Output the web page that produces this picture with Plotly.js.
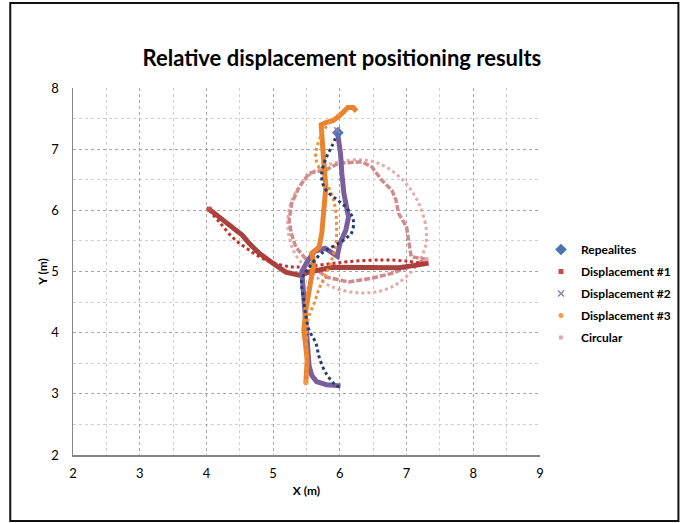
<!DOCTYPE html>
<html><head><meta charset="utf-8">
<script src="https://cdn.plot.ly/plotly-3.0.1.min.js"></script>
<style>html,body{margin:0;padding:0;background:#fff}#chart{width:688px;height:523px}</style>
</head><body><div id="chart"></div><script>
// Repealites (reference path, dotted)
const repealX = [5.97,5.88,5.78,5.73,5.74,5.80,5.95,6.09,6.20,6.18,6.10,5.98,5.73,5.54,5.43,5.46,5.49,5.54,5.64,5.69,5.79,5.94,6.01];
const repealY = [7.27,7.05,6.82,6.62,6.45,6.32,6.18,6.05,5.85,5.64,5.55,5.46,5.30,5.07,4.86,4.53,4.28,4.04,3.83,3.60,3.34,3.14,3.11];
// Displacement #1
const disp1MeasX = [4.04,4.12,4.19,4.30,4.39,4.54,4.64,4.79,4.99,5.19,5.39,5.54,5.88,6.39,6.88,7.13,7.33];
const disp1MeasY = [6.02,5.95,5.89,5.80,5.73,5.59,5.46,5.30,5.14,4.99,4.94,4.99,5.07,5.07,5.06,5.10,5.14];
const disp1RefX = [4.04,4.20,4.39,4.60,4.89,5.24,5.50,5.80,6.13,6.63,7.00,7.28];
const disp1RefY = [6.00,5.80,5.56,5.38,5.19,5.08,5.08,5.12,5.16,5.19,5.17,5.12];
// Displacement #2
const disp2X = [6.01,5.80,5.65,5.58,5.54,5.51,5.49,5.45,5.43,5.43,5.52,5.62,5.78,5.96,6.00,6.09,6.13,6.10,6.06,6.03,6.01,5.96];
const disp2Y = [3.13,3.15,3.20,3.30,3.45,3.83,4.26,4.60,4.81,5.00,5.18,5.33,5.38,5.25,5.45,5.68,5.89,6.05,6.28,6.60,6.93,7.31];
// Displacement #3
const disp3MeasX = [5.49,5.51,5.49,5.46,5.49,5.54,5.57,5.61,5.58,5.69,5.73,5.76,5.79,5.76,5.73,5.72,5.80,5.90,6.00,6.07,6.12,6.20,6.25];
const disp3MeasY = [3.18,3.55,3.77,4.04,4.37,4.65,4.91,5.14,5.30,5.40,5.63,5.95,6.38,6.77,7.15,7.40,7.44,7.47,7.55,7.64,7.68,7.68,7.62];
const disp3RefX = [5.50,5.50,5.52,5.62,5.70,5.79,5.88,5.94,5.95,5.93,5.87,5.73,5.64,5.66,5.76,5.88,6.00];
const disp3RefY = [3.20,3.80,4.20,4.50,4.75,4.95,5.20,5.45,5.75,6.05,6.28,6.60,6.85,7.05,7.31,7.47,7.58];
// Circular
const circMeasX = [7.30,7.07,7.03,7.00,6.88,6.84,6.78,6.63,6.48,6.33,6.28,5.98,5.79,5.54,5.39,5.28,5.24,5.27,5.34,5.54,5.79,6.13,6.48,6.78,6.99,7.18,7.30];
const circMeasY = [5.20,5.24,5.51,5.73,5.95,6.17,6.33,6.49,6.71,6.79,6.79,6.77,6.66,6.61,6.38,6.12,5.84,5.63,5.40,5.14,4.91,4.83,4.89,4.97,5.06,5.14,5.20];
const circRefX = [7.30,7.28,7.18,6.99,6.69,6.39,5.98,5.64,5.39,5.26,5.22,5.30,5.49,5.88,6.39,6.78,7.13,7.28,7.30];
const circRefY = [5.60,5.79,6.12,6.44,6.71,6.82,6.79,6.66,6.38,6.10,5.75,5.35,5.07,4.75,4.65,4.75,5.07,5.40,5.60];

const legendNames = ['Repealites','Displacement #1','Displacement #2','Displacement #3','Circular'];
const xTicks = [2,3,4,5,6,7,8,9];
const yTicks = [2,3,4,5,6,7,8];

const C = {navy:'#23406e', blueMk:'#4a74b4', red:'#a8423f', redRef:'#c62f2c', purple:'#7a5f9e', orange:'#e9832f', orangeRef:'#f0903a', pink:'#cf8c8b', pinkRef:'#e4abab'};

function path(x,y,color,width,dash,shape){
  return {x:x,y:y,type:'scatter',mode:'lines',showlegend:false,hoverinfo:'skip',
    line:{color:color,width:width,dash:dash||'solid',shape:shape||'linear',smoothing:1}};
}
function leg(i,x,y,symbol,size,color){
  return {x:[x],y:[y],type:'scatter',mode:'markers',name:legendNames[i],legendgroup:'g'+i,
    marker:{symbol:symbol,size:size,color:color,line:{width:0}}};
}
const traces = [
  path(circRefX,circRefY,C.pinkRef,3,'3px,3px','spline'),
  path(circMeasX,circMeasY,C.pink,3.5,'6px,2px'),
  path(disp1MeasX,disp1MeasY,C.red,5),
  path(disp1RefX,disp1RefY,C.redRef,3,'3px,3px','spline'),
  path(disp2X,disp2Y,C.purple,5),
  path(disp3MeasX,disp3MeasY,C.orange,5),
  path(disp3RefX,disp3RefY,C.orangeRef,3,'3px,3px','spline'),
  path(repealX,repealY,C.navy,3,'3px,3px','spline'),
  leg(0,repealX[0],repealY[0],'diamond',9,C.blueMk),
  leg(1,disp1MeasX[0],disp1MeasY[0],'square',5,'#c0504d'),
  leg(2,disp2X[disp2X.length-1],disp2Y[disp2Y.length-1],'x-thin-open',6,'#9080b8'),
  leg(3,disp3MeasX[0],disp3MeasY[0],'circle',5,'#f59a4e'),
  leg(4,circMeasX[0],circMeasY[0],'square',4,'#e3aaaa')
];
traces[10].marker.line = {width:1.5,color:'#9080b8'};

const font = 'Lato, "Liberation Sans", sans-serif';
const gridMajor = '#a6a6a6', gridMinor = '#d0d0d0';
function axis(ticks,extra){
  return Object.assign({
    range:[ticks[0],ticks[ticks.length-1]], tickvals:ticks, ticktext:ticks.map(String),
    showgrid:true, gridcolor:gridMajor, griddash:'dot', gridwidth:1,
    minor:{dtick:0.5, showgrid:true, gridcolor:gridMinor, griddash:'dot', gridwidth:1},
    showline:true, linecolor:'#868686', linewidth:1.5, zeroline:false,
    ticks:'', tickfont:{family:font,size:13,color:'#000'}
  }, extra);
}
const L=73, R=542, T=88, B=455, W=688, H=523;
const pw=R-L, ph=B-T;
const titleFont = {family:font,size:12,color:'#000',weight:'bold'};
const layout = {
  width:W, height:H, margin:{l:L,r:W-R,t:T,b:H-B,pad:0},
  paper_bgcolor:'#fff', plot_bgcolor:'#fff',
  title:{text:'Relative displacement positioning results', font:{family:font,size:22,color:'#000',weight:'bold'},
    x:0.497, xref:'container', xanchor:'center', y:1-58/H, yref:'container', yanchor:'middle'},
  xaxis: axis(xTicks,{ticklabelstandoff:6, title:{text:'X (m)',standoff:6,font:titleFont}}),
  yaxis: axis(yTicks,{ticklabelstandoff:10, title:{text:'Y (m)',standoff:1,font:titleFont}}),
  showlegend:true,
  legend:{x:(543-L)/pw, y:(B-235)/ph, xanchor:'left', yanchor:'top', bgcolor:'rgba(0,0,0,0)',
    font:{family:font,size:12,color:'#000',weight:'bold'}, tracegroupgap:3, traceorder:'grouped', itemsizing:'trace'},
  shapes:[{type:'rect', xref:'paper', yref:'paper', x0:(10-L)/pw, x1:(681-L)/pw, y0:(B-521)/ph, y1:(B-3)/ph,
    line:{color:'#111',width:2}, layer:'above'}]
};
Plotly.newPlot('chart', traces, layout, {staticPlot:true, displayModeBar:false});
</script></body></html>
